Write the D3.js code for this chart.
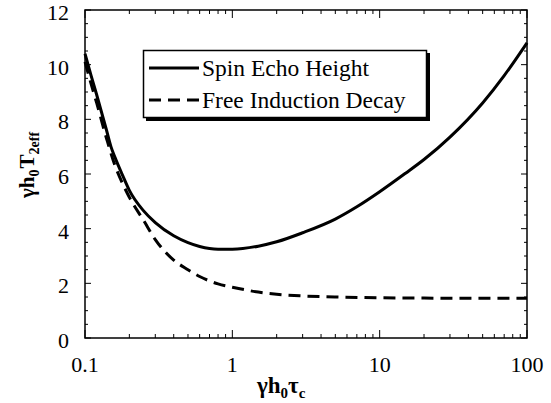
<!DOCTYPE html>
<html>
<head>
<meta charset="utf-8">
<script src="https://cdn.jsdelivr.net/npm/d3@7"></script>
<style>
  body { margin: 0; background: #fff; }
</style>
</head>
<body>
<svg id="chart"></svg>
<script>
// values
const spinX = [0.1, 0.11, 0.12, 0.14, 0.15, 0.16, 0.18, 0.2, 0.25, 0.3, 0.4, 0.5, 0.6, 0.8, 1, 1.5, 2, 3, 5, 7, 10, 15, 20, 30, 50, 70, 100];
const spinY = [10.4, 9.6, 8.9, 7.6, 7.0, 6.6, 5.95, 5.4, 4.65, 4.22, 3.74, 3.49, 3.35, 3.25, 3.25, 3.36, 3.52, 3.85, 4.35, 4.8, 5.35, 6.03, 6.53, 7.35, 8.6, 9.6, 10.8];
const fidX = [0.1, 0.11, 0.12, 0.14, 0.16, 0.18, 0.2, 0.25, 0.3, 0.4, 0.5, 0.6, 0.8, 1, 1.5, 2, 3, 5, 10, 20, 50, 100];
const fidY = [10.1, 9.3, 8.6, 7.3, 6.3, 5.65, 5.15, 4.3, 3.6, 2.85, 2.5, 2.25, 1.98, 1.86, 1.68, 1.6, 1.54, 1.5, 1.47, 1.46, 1.45, 1.45];
const seriesNames = ["Spin Echo Height", "Free Induction Decay"];
const xTicks = [0.1, 1, 10, 100];
const xTickLabels = ["0.1", "1", "10", "100"];
const yTicks = [0, 2, 4, 6, 8, 10, 12];

const width = 551, height = 403;
const margin = { top: 10, right: 24, bottom: 65, left: 85 };
const serif = "'Liberation Serif', Tinos, 'Times New Roman', 'DejaVu Serif', serif";

const svg = d3.select("#chart")
    .attr("width", width)
    .attr("height", height)
    .attr("font-family", serif);

const x = d3.scaleLog().domain([0.1, 100]).range([margin.left, width - margin.right]);
const y = d3.scaleLinear().domain([0, 12]).range([height - margin.bottom, margin.top]);

const x0 = x.range()[0], x1 = x.range()[1];
const y0 = y.range()[0], y1 = y.range()[1];

// minor ticks
const xMinor = [];
for (let d = 0.1; d < 100; d *= 10) {
    for (let k = 2; k <= 9; k++) xMinor.push(+(d * k).toPrecision(3));
}
const yMinor = d3.range(0, 12.01, 0.5).filter(v => v % 2 !== 0);

const ticks = svg.append("g").attr("stroke", "#000").attr("stroke-width", 1);
// bottom & top
ticks.selectAll(".xmaj").data(xTicks).enter().append("path")
    .attr("d", d => `M${x(d)},${y0}v-8M${x(d)},${y1}v8`);
ticks.selectAll(".xmin").data(xMinor).enter().append("path")
    .attr("d", d => `M${x(d)},${y0}v-4M${x(d)},${y1}v4`);
// left & right
ticks.selectAll(".ymaj").data(yTicks).enter().append("path")
    .attr("d", d => `M${x0},${y(d)}h6M${x1},${y(d)}h-6`);
ticks.selectAll(".ymin").data(yMinor).enter().append("path")
    .attr("d", d => `M${x0},${y(d)}h3M${x1},${y(d)}h-3`);

// frame
svg.append("rect")
    .attr("x", x0).attr("y", y1)
    .attr("width", x1 - x0).attr("height", y0 - y1)
    .attr("fill", "none").attr("stroke", "#000").attr("stroke-width", 1.5);

// tick labels
svg.append("g").selectAll("text").data(xTicks).enter().append("text")
    .attr("x", d => x(d)).attr("y", y0 + 34)
    .attr("text-anchor", "middle")
    .attr("font-size", 22)
    .text((d, i) => xTickLabels[i]);

svg.append("g").selectAll("text").data(yTicks).enter().append("text")
    .attr("x", x0 - 16).attr("y", d => y(d) + 10)
    .attr("text-anchor", "end")
    .attr("font-size", 22)
    .text(d => d);

// curves
const line = d3.line()
    .x(d => x(d[0]))
    .y(d => y(d[1]))
    .curve(d3.curveMonotoneX);

svg.append("path")
    .datum(fidX.map((v, i) => [v, fidY[i]]))
    .attr("d", line)
    .attr("fill", "none").attr("stroke", "#000")
    .attr("stroke-width", 3)
    .attr("stroke-dasharray", "12,7");

svg.append("path")
    .datum(spinX.map((v, i) => [v, spinY[i]]))
    .attr("d", line)
    .attr("fill", "none").attr("stroke", "#000")
    .attr("stroke-width", 3);

// legend
const lg = svg.append("g");
lg.append("rect").attr("x", 146).attr("y", 53).attr("width", 284).attr("height", 68).attr("fill", "#000");
lg.append("rect").attr("x", 143.5).attr("y", 50.5).attr("width", 283).attr("height", 67)
    .attr("fill", "#fff").attr("stroke", "#000").attr("stroke-width", 1.5);

const rows = lg.selectAll(".row").data(seriesNames).enter().append("g")
    .attr("transform", (d, i) => `translate(0,${68 + i * 32})`);
rows.append("path")
    .attr("d", "M149,0H199")
    .attr("stroke", "#000").attr("stroke-width", 3)
    .attr("stroke-dasharray", (d, i) => i === 0 ? null : "12,7");
rows.append("text")
    .attr("x", 202).attr("y", 8)
    .attr("font-size", 23.5)
    .text(d => d);

// axis titles
const xt = svg.append("text")
    .attr("x", 257).attr("y", 393)
    .attr("font-size", 23).attr("font-weight", "bold");
xt.append("tspan").text("γh");
xt.append("tspan").attr("dy", 5).attr("font-size", 15).text("0");
xt.append("tspan").attr("dy", -5).text("τ");
xt.append("tspan").attr("dy", 5).attr("font-size", 15).text("c");

const yt = svg.append("text")
    .attr("transform", "translate(34,198) rotate(-90)")
    .attr("font-size", 21).attr("font-weight", "bold");
yt.append("tspan").text("γh");
yt.append("tspan").attr("dy", 5).attr("font-size", 14).text("0");
yt.append("tspan").attr("dy", -5).attr("dx", 1).text("T");
yt.append("tspan").attr("dy", 5).attr("font-size", 14).text("2eff");
</script>
</body>
</html>
